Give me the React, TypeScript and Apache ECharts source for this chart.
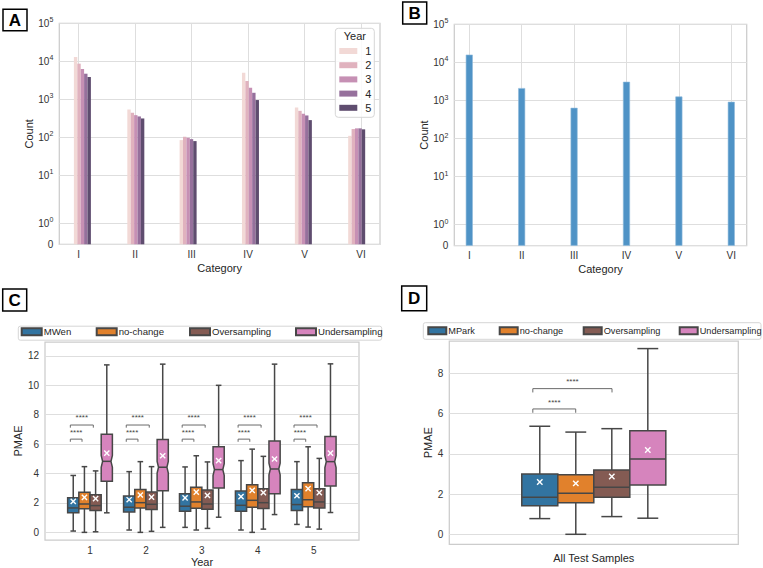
import React, { useEffect, useRef } from 'react';
import * as echarts from 'echarts';

// ---------- Panel A / B data ----------
const categories = ['I', 'II', 'III', 'IV', 'V', 'VI'];
const years = ['1', '2', '3', '4', '5'];
const binCentersA = [0.066, 1.012, 1.938, 3.042, 3.979, 4.923];
const countsYear1 = [13060, 545, 85, 5040, 615, 110];
const countsYear2 = [8700, 443, 104, 3040, 500, 166];
const countsYear3 = [6300, 385, 98, 2020, 417, 173];
const countsYear4 = [4730, 356, 90, 1490, 378, 173];
const countsYear5 = [3870, 315, 80, 960, 285, 163];
const countsByYear = [countsYear1, countsYear2, countsYear3, countsYear4, countsYear5];
const countsTotal = [15970, 2120, 643, 3100, 1275, 925];
const countTicks = [0, 1, 10, 100, 1000, 10000, 100000];

// ---------- Panel C data: [lowWhisker, q1, median, q3, highWhisker, mean] ----------
const yearsC = [1, 2, 3, 4, 5];
const methodsC = ['MWen', 'no-change', 'Oversampling', 'Undersampling'];
const mwenStatsC = [
  [0.09, 1.33, 1.66, 2.36, 3.87, 2.11],
  [0.16, 1.39, 1.71, 2.47, 4.13, 2.22],
  [0.34, 1.44, 1.78, 2.63, 4.45, 2.34],
  [0.16, 1.44, 1.84, 2.81, 4.88, 2.43],
  [0.54, 1.48, 1.89, 2.92, 4.81, 2.49],
];
const noChangeStatsC = [
  [0.0, 1.6, 1.93, 2.72, 4.47, 2.38],
  [0.0, 1.66, 2.02, 2.92, 4.81, 2.54],
  [0.16, 1.64, 2.07, 3.06, 5.21, 2.74],
  [0.0, 1.71, 2.18, 3.24, 5.66, 2.85],
  [0.36, 1.75, 2.22, 3.37, 5.82, 2.97],
];
const overStatsC = [
  [0.04, 1.48, 1.82, 2.56, 4.18, 2.29],
  [0.07, 1.55, 1.91, 2.74, 4.47, 2.4],
  [0.27, 1.57, 1.93, 2.88, 4.79, 2.52],
  [0.22, 1.62, 2.02, 2.97, 5.17, 2.7],
  [0.22, 1.66, 2.07, 2.97, 5.03, 2.7],
];
const underStatsC = [
  [1.33, 3.48, 4.83, 6.67, 11.39, 5.39],
  [0.34, 2.83, 4.43, 6.31, 11.44, 5.21],
  [1.03, 3.01, 4.27, 5.82, 10.0, 4.88],
  [1.21, 2.63, 4.31, 6.22, 11.44, 4.99],
  [1.35, 3.15, 4.81, 6.52, 11.46, 5.39],
];
const underNotchC = [0.4, 0.4, 0.4, 0.4, 0.4];
// significance brackets (offset from year, level)
const sigFromC = [-0.352, -0.352];
const sigToC = [-0.143, 0.059];
const sigLevelC = [6.34, 7.3];
const sigTextLevelC = [6.79, 7.84];
const sigLabel = '****';

// ---------- Panel D data ----------
const methodsD = ['MPark', 'no-change', 'Oversampling', 'Undersampling'];
const mparkStatsD = [0.78, 1.42, 1.84, 3.0, 5.37, 2.6];
const noChangeStatsD = [0.0, 1.57, 2.04, 2.96, 5.08, 2.53];
const overStatsD = [0.88, 1.84, 2.34, 3.2, 5.25, 2.87];
const underStatsD = [0.8, 2.45, 3.74, 5.15, 9.23, 4.19];
const sigFromD = [-0.211, -0.211];
const sigToD = [-0.0626, 0.063];
const sigLevelD = [6.23, 7.24];
const sigTextLevelD = [6.56, 7.57];

// ---------- styles ----------
const yearColors = ['#f2d9d6', '#e0b2be', '#c690b4', '#96709c', '#5f4d6f'];
const histBlue = '#4f93c6';
const boxColors = ['#3274a1', '#e1812c', '#845b53', '#d684bd'];
const LINE = '#474747';
const GRID = '#dedede';
const FRAME = '#cccccc';
const TEXT = '#262626';
const FONT = '"Liberation Sans", Arial, sans-serif';

const LINTHRESH = 2;
const LINSCALE_ADJ = 1 / (1 - 1 / 10);
const symlog = (v: number) =>
  v <= LINTHRESH ? (v / LINTHRESH) * LINSCALE_ADJ : LINSCALE_ADJ + Math.log10(v / LINTHRESH);

const countLabel = (v: number) => {
  const i = countTicks.findIndex((t) => Math.abs(symlog(t) - v) < 1e-6);
  if (i <= 0) return '{b|0}';
  return `{b|10}{s|${i - 1}}`;
};

const countYAxis = (gridIndex: number) => ({
  type: 'value',
  gridIndex,
  min: 0,
  max: symlog(100000),
  name: 'Count',
  nameLocation: 'middle',
  nameGap: 25,
  nameTextStyle: { fontSize: 11, color: TEXT },
  axisLine: { show: false },
  axisTick: { show: false, customValues: countTicks.map(symlog) },
  splitLine: { show: true, lineStyle: { color: GRID, width: 1 } },
  axisLabel: {
    customValues: countTicks.map(symlog),
    formatter: countLabel,
    margin: 6,
    color: '#333',
    rich: {
      b: { fontSize: 10, lineHeight: 14, color: '#333', fontFamily: FONT },
      s: { fontSize: 7, verticalAlign: 'top', color: '#333', fontFamily: FONT },
    },
  },
});

const catXAxis = (gridIndex: number, min: number, max: number) => ({
  type: 'value',
  gridIndex,
  min,
  max,
  name: 'Category',
  nameLocation: 'middle',
  nameGap: 18,
  nameTextStyle: { fontSize: 11, color: TEXT },
  axisLine: { show: false },
  axisTick: { show: false, customValues: [0, 1, 2, 3, 4, 5] },
  splitLine: { show: true, lineStyle: { color: GRID, width: 1 } },
  axisLabel: {
    customValues: [0, 1, 2, 3, 4, 5],
    formatter: (v: number) => categories[Math.round(v)],
    margin: 5,
    fontSize: 10,
    color: '#333',
  },
});

function boxRenderer(halfW: number, capHalf: number, inset: number, lw: number, markR: number, fill: string) {
  return (params: any, api: any) => {
    const x = api.value(0);
    const wl = api.value(1);
    const q1 = api.value(2);
    const med = api.value(3);
    const q3 = api.value(4);
    const wh = api.value(5);
    const mean = api.value(6);
    const notch = api.value(7);
    const c = (xv: number, yv: number) => api.coord([xv, yv]);
    const line = (a: number[], b: number[], stroke = LINE, w = lw) => ({
      type: 'line',
      shape: { x1: a[0], y1: a[1], x2: b[0], y2: b[1] },
      style: { stroke, lineWidth: w },
    });
    const L = x - halfW;
    const R = x + halfW;
    const children: any[] = [];
    children.push(line(c(x, wl), c(x, q1)));
    children.push(line(c(x, q3), c(x, wh)));
    children.push(line(c(x - capHalf, wl), c(x + capHalf, wl)));
    children.push(line(c(x - capHalf, wh), c(x + capHalf, wh)));
    let pts: number[][];
    if (notch > 0) {
      const li = L + inset;
      const ri = R - inset;
      pts = [
        c(L, q1), c(L, med - notch), c(li, med), c(L, med + notch), c(L, q3),
        c(R, q3), c(R, med + notch), c(ri, med), c(R, med - notch), c(R, q1),
      ];
    } else {
      pts = [c(L, q1), c(L, q3), c(R, q3), c(R, q1)];
    }
    children.push({ type: 'polygon', shape: { points: pts }, style: { fill, stroke: LINE, lineWidth: lw } });
    const mL = notch > 0 ? L + inset : L;
    const mR = notch > 0 ? R - inset : R;
    children.push(line(c(mL, med), c(mR, med)));
    const m = c(x, mean);
    children.push(line([m[0] - markR, m[1] - markR], [m[0] + markR, m[1] + markR], '#ffffff', 1.4));
    children.push(line([m[0] - markR, m[1] + markR], [m[0] + markR, m[1] - markR], '#ffffff', 1.4));
    return { type: 'group', children };
  };
}

function bracketRenderer(drop: number) {
  return (params: any, api: any) => {
    const x1 = api.value(0);
    const x2 = api.value(1);
    const y = api.value(2);
    const ty = api.value(3);
    const c = (xv: number, yv: number) => api.coord([xv, yv]);
    const t = c((x1 + x2) / 2, ty);
    return {
      type: 'group',
      children: [
        {
          type: 'polyline',
          shape: { points: [c(x1, y - drop), c(x1, y), c(x2, y), c(x2, y - drop)] },
          style: { stroke: '#6a6a6a', lineWidth: 1, fill: 'none' },
        },
        {
          type: 'text',
          x: t[0],
          y: t[1],
          style: { text: sigLabel, fontSize: 8, fill: '#444', align: 'center', verticalAlign: 'middle', fontFamily: FONT },
        },
      ],
    };
  };
}

export default function App() {
  const ref = useRef<HTMLDivElement>(null);
  useEffect(() => {
    if (!ref.current) return;
    const chart = echarts.init(ref.current, undefined, { renderer: 'svg' });

    const series: any[] = [];
    // Panel A bars
    countsByYear.forEach((counts, k) => {
      series.push({
        type: 'bar',
        name: years[k],
        xAxisIndex: 0,
        yAxisIndex: 0,
        barWidth: 3.4,
        barGap: '0%',
        itemStyle: { color: yearColors[k] },
        z: 2,
        data: binCentersA.map((x, i) => [x, symlog(counts[i])]),
      });
    });
    // Panel B bars
    series.push({
      type: 'bar',
      name: 'All',
      xAxisIndex: 1,
      yAxisIndex: 1,
      barWidth: 7,
      itemStyle: { color: histBlue, borderColor: '#8fbbdc', borderWidth: 0.6 },
      z: 2,
      data: countsTotal.map((v, i) => [i, symlog(v)]),
    });
    // Panel C boxes
    const statsC = [mwenStatsC, noChangeStatsC, overStatsC, underStatsC];
    const offsetsC = [-0.3, -0.1, 0.1, 0.3];
    statsC.forEach((stats, k) => {
      series.push({
        type: 'custom',
        name: methodsC[k],
        xAxisIndex: 2,
        yAxisIndex: 2,
        itemStyle: { color: boxColors[k], borderColor: LINE, borderWidth: 1 },
        renderItem: boxRenderer(0.1, 0.05, 0.025, 1.5, 2.6, boxColors[k]),
        data: stats.map((s, i) => [yearsC[i] + offsetsC[k], ...s, k === 3 ? underNotchC[i] : 0]),
        z: 3,
      });
    });
    // Panel C brackets
    series.push({
      type: 'custom',
      name: 'sigC',
      xAxisIndex: 2,
      yAxisIndex: 2,
      renderItem: bracketRenderer(0.18),
      data: yearsC.flatMap((yr) =>
        sigLevelC.map((lvl, j) => [yr + sigFromC[j], yr + sigToC[j], lvl, sigTextLevelC[j]])
      ),
      z: 3,
    });
    // Panel D boxes
    const statsD = [mparkStatsD, noChangeStatsD, overStatsD, underStatsD];
    const wD = 0.1246;
    const offsetsD = [-1.5 * wD, -0.5 * wD, 0.5 * wD, 1.5 * wD];
    statsD.forEach((s, k) => {
      series.push({
        type: 'custom',
        name: methodsD[k],
        xAxisIndex: 3,
        yAxisIndex: 3,
        itemStyle: { color: boxColors[k], borderColor: LINE, borderWidth: 1 },
        renderItem: boxRenderer(wD / 2, wD * 0.29, 0, 1.5, 2.7, boxColors[k]),
        data: [[offsetsD[k], ...s, 0]],
        z: 3,
      });
    });
    series.push({
      type: 'custom',
      name: 'sigD',
      xAxisIndex: 3,
      yAxisIndex: 3,
      renderItem: bracketRenderer(0.19),
      data: sigLevelD.map((lvl, j) => [sigFromD[j], sigToD[j], lvl, sigTextLevelD[j]]),
      z: 3,
    });

    const legendCommon = (fs: number) => ({
      orient: 'horizontal',
      padding: 0,
      icon: 'rect',
      selectedMode: false,
      textStyle: { fontSize: fs, color: TEXT, lineHeight: 12, fontFamily: FONT, padding: [0, 0, 0, -3] },
      z: 5,
    });
    const legendXC = [20.7, 95.7, 189, 295];
    const legendXD = [427.3, 498.7, 582.7, 678.7];

    const panelLabel = (x: number, y: number, w: number, h: number, t: string) => [
      { type: 'rect', shape: { x, y, width: w, height: h }, style: { fill: '#fff', stroke: '#000', lineWidth: 1.5 }, z: 10 },
      {
        type: 'text',
        x: x + w / 2,
        y: y + h / 2 + 0.5,
        style: { text: t, fontSize: 17, fontWeight: 'bold', fontFamily: FONT, fill: '#000', align: 'center', verticalAlign: 'middle' },
        z: 11,
      },
    ];

    const option: any = {
      animation: false,
      backgroundColor: '#ffffff',
      textStyle: { fontFamily: FONT },
      grid: [
        { left: 59.3, top: 23.3, width: 320.7, height: 221, show: true, borderColor: FRAME, borderWidth: 1.25, backgroundColor: 'transparent' },
        { left: 454.3, top: 24.3, width: 292.4, height: 221.4, show: true, borderColor: FRAME, borderWidth: 1.25, backgroundColor: 'transparent' },
        { left: 45, top: 342, width: 314, height: 199.7, show: true, borderColor: FRAME, borderWidth: 1.25, backgroundColor: 'transparent' },
        { left: 449.3, top: 341, width: 289, height: 203.3, show: true, borderColor: FRAME, borderWidth: 1.25, backgroundColor: 'transparent' },
      ],
      xAxis: [
        catXAxis(0, -0.343, 5.336),
        catXAxis(1, -0.286, 5.294),
        {
          type: 'value',
          gridIndex: 2,
          min: 0.195,
          max: 5.81,
          name: 'Year',
          nameLocation: 'middle',
          nameGap: 16,
          nameTextStyle: { fontSize: 11, color: TEXT },
          axisLine: { show: false },
          axisTick: { show: false, customValues: yearsC },
          splitLine: { show: false },
          axisLabel: { customValues: yearsC, formatter: (v: number) => String(Math.round(v)), margin: 5, fontSize: 10, color: '#333' },
        },
        {
          type: 'value',
          gridIndex: 3,
          min: -0.5,
          max: 0.5,
          name: 'All Test Samples',
          nameLocation: 'middle',
          nameGap: 8,
          nameTextStyle: { fontSize: 11, color: TEXT },
          axisLine: { show: false },
          axisTick: { show: false },
          splitLine: { show: false },
          axisLabel: { show: false },
        },
      ],
      yAxis: [
        countYAxis(0),
        countYAxis(1),
        {
          type: 'value',
          gridIndex: 2,
          min: -0.519,
          max: 12.946,
          name: 'PMAE',
          nameLocation: 'middle',
          nameGap: 22,
          nameTextStyle: { fontSize: 11, color: TEXT },
          axisLine: { show: false },
          axisTick: { show: false, customValues: [0, 2, 4, 6, 8, 10, 12] },
          splitLine: { show: true, lineStyle: { color: GRID, width: 1 } },
          axisLabel: { customValues: [0, 2, 4, 6, 8, 10, 12], margin: 6, fontSize: 10, color: '#333' },
        },
        {
          type: 'value',
          gridIndex: 3,
          min: -0.497,
          max: 9.607,
          name: 'PMAE',
          nameLocation: 'middle',
          nameGap: 14,
          nameTextStyle: { fontSize: 11, color: TEXT },
          axisLine: { show: false },
          axisTick: { show: false, customValues: [0, 2, 4, 6, 8] },
          splitLine: { show: true, lineStyle: { color: GRID, width: 1 } },
          axisLabel: { customValues: [0, 2, 4, 6, 8], margin: 6, fontSize: 10, color: '#333' },
        },
      ],
      legend: [
        {
          ...legendCommon(11),
          orient: 'vertical',
          data: years,
          left: 339.3,
          top: 45,
          itemWidth: 18,
          itemHeight: 6,
          itemGap: 2.2,
          textStyle: { fontSize: 11, color: TEXT, lineHeight: 12, fontFamily: FONT, padding: [0, 0, 0, 3] },
        },
        ...methodsC.map((m, k) => ({ ...legendCommon(9.6), data: [m], left: legendXC[k], top: 325.7, itemWidth: 20, itemHeight: 7 })),
        ...methodsD.map((m, k) => ({ ...legendCommon(9.2), data: [m], left: legendXD[k], top: 324.7, itemWidth: 18, itemHeight: 7 })),
      ],
      graphic: [
        ...panelLabel(3, 9.3, 24, 21.4, 'A'),
        ...panelLabel(402.7, 2, 24, 22, 'B'),
        ...panelLabel(2.7, 289, 24, 22, 'C'),
        ...panelLabel(401.7, 286, 25, 24.7, 'D'),
        { type: 'rect', shape: { x: 335.3, y: 28.3, width: 39, height: 89, r: 3 }, style: { fill: 'rgba(255,255,255,0.85)', stroke: '#d6d6d6', lineWidth: 1 }, z: 3 },
        { type: 'text', x: 354.8, y: 36, style: { text: 'Year', fontSize: 11, fontFamily: FONT, fill: TEXT, align: 'center', verticalAlign: 'middle' }, z: 4 },
        { type: 'rect', shape: { x: 18.3, y: 326.2, width: 363.4, height: 14, r: 2 }, style: { fill: '#fff', stroke: '#d6d6d6', lineWidth: 1 }, z: 1 },
        { type: 'rect', shape: { x: 423.3, y: 322.7, width: 337.7, height: 16.6, r: 2 }, style: { fill: '#fff', stroke: '#d6d6d6', lineWidth: 1 }, z: 1 },
      ],
      series,
    };
    chart.setOption(option);
    return () => chart.dispose();
  }, []);
  return <div ref={ref} style={{ position: 'fixed', left: 0, top: 0, width: 763, height: 568, background: '#fff' }} />;
}
